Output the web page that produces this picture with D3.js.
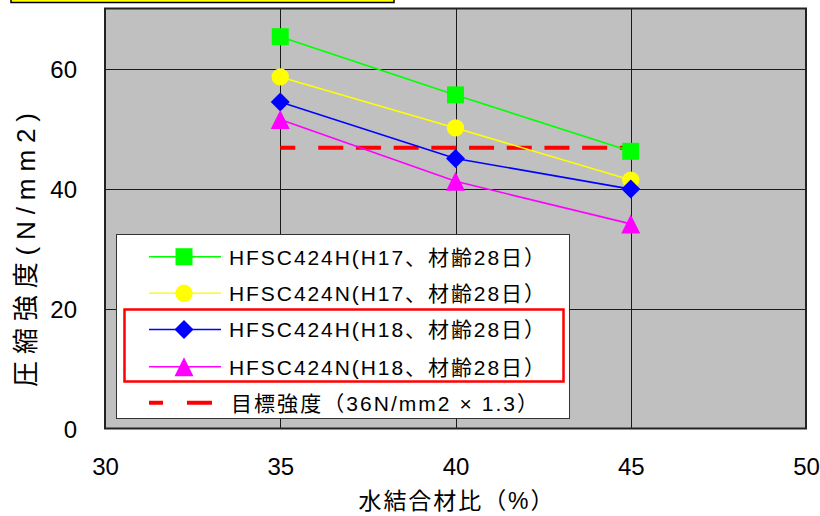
<!DOCTYPE html>
<html>
<head>
<meta charset="utf-8">
<script src="https://cdn.jsdelivr.net/npm/d3@7"></script>
<style>
  html, body { margin: 0; padding: 0; background: #ffffff; }
  svg { display: block; }
  text { font-family: "Liberation Sans", Arial, "Noto Sans CJK JP", sans-serif; fill: #000; }
</style>
</head>
<body>
<svg id="chart" width="820" height="516"></svg>
<script>
// Water-binder ratio (%) on the x axis
const ratios = [35, 40, 45];

// Compressive strength (N/mm2), one array per mix / test year
const hfscH17H = [65.3, 55.6, 46.2];
const hfscH17N = [58.6, 50.1, 41.4];
const hfscH18H = [54.4, 45.0, 39.9];
const hfscH18N = [51.5, 41.2, 34.1];

// Target strength = 36 N/mm2 x 1.3
const targetStrength = 36 * 1.3;
const targetRange = [35, 45];

const seriesNames = [
  "HFSC424H(H17、材齢28日）",
  "HFSC424N(H17、材齢28日）",
  "HFSC424H(H18、材齢28日）",
  "HFSC424N(H18、材齢28日）"
];
const targetName = "目標強度（36N/mm2 × 1.3）";

const xTicks = [30, 35, 40, 45, 50];
const yTicks = [0, 20, 40, 60];
const xTitle = "水結合材比（%）";
const yTitle = "圧縮強度(N/mm2)";

const series = [
  { name: seriesNames[0], values: hfscH17H, color: "#00ff00", shape: "square" },
  { name: seriesNames[1], values: hfscH17N, color: "#ffff00", shape: "circle" },
  { name: seriesNames[2], values: hfscH18H, color: "#0000ff", shape: "diamond" },
  { name: seriesNames[3], values: hfscH18N, color: "#ff00ff", shape: "triangle" }
];

const svg = d3.select("#chart");
const plot = { left: 105, right: 806, top: 8.5, bottom: 428.5 };

const x = d3.scaleLinear().domain([30, 50]).range([plot.left, plot.right]);
const y = d3.scaleLinear().domain([0, 70]).range([plot.bottom, plot.top]);

// Yellow title box peeking in at the top edge
svg.append("rect")
  .attr("x", 11).attr("y", -10).attr("width", 383).attr("height", 12.5)
  .attr("fill", "#ffff00").attr("stroke", "#000").attr("stroke-width", 1.5);

// Plot background
svg.append("rect")
  .attr("x", plot.left).attr("y", plot.top)
  .attr("width", plot.right - plot.left).attr("height", plot.bottom - plot.top)
  .attr("fill", "#c0c0c0");

// Gridlines
const grid = svg.append("g").attr("stroke", "#1a1a1a").attr("stroke-width", 1);
grid.selectAll("line.gx").data(xTicks.filter(d => d > 30 && d < 50)).join("line")
  .attr("x1", d => Math.round(x(d)) + 0.5).attr("x2", d => Math.round(x(d)) + 0.5)
  .attr("y1", plot.top).attr("y2", plot.bottom);
grid.selectAll("line.gy").data(yTicks.filter(d => d > 0)).join("line")
  .attr("y1", d => Math.round(y(d)) + 0.5).attr("y2", d => Math.round(y(d)) + 0.5)
  .attr("x1", plot.left).attr("x2", plot.right);

// Plot frame
svg.append("rect")
  .attr("x", plot.left).attr("y", plot.top)
  .attr("width", plot.right - plot.left).attr("height", plot.bottom - plot.top)
  .attr("fill", "none").attr("stroke", "#222").attr("stroke-width", 2);

// Axis tick labels via d3 axes (domain and tick marks hidden)
const xAxis = svg.append("g")
  .attr("transform", `translate(0,${plot.bottom})`)
  .call(d3.axisBottom(x).tickValues(xTicks).tickSize(0).tickPadding(0).tickFormat(d3.format("d")));
xAxis.select(".domain").remove();
xAxis.selectAll("text")
  .attr("y", 46).attr("dy", null)
  .style("font-size", "24px").style("font-family", "'Liberation Sans', Arial, sans-serif");

const yAxis = svg.append("g")
  .attr("transform", `translate(77,0)`)
  .call(d3.axisLeft(y).tickValues(yTicks).tickSize(0).tickPadding(0).tickFormat(d3.format("d")));
yAxis.select(".domain").remove();
yAxis.selectAll("text")
  .attr("x", 0).attr("dy", "0.36em")
  .style("font-size", "24px").style("font-family", "'Liberation Sans', Arial, sans-serif");

// Axis titles
svg.append("text")
  .attr("x", 456).attr("y", 509).attr("text-anchor", "middle")
  .attr("textLength", 195).attr("lengthAdjust", "spacing")
  .style("font-size", "23px").text(xTitle);

svg.append("text")
  .attr("transform", "translate(35,250) rotate(-90)")
  .attr("text-anchor", "middle")
  .attr("textLength", 274).attr("lengthAdjust", "spacing")
  .style("font-size", "26px").text(yTitle);

// Target strength dashed line
function dashPattern(total) {
  const arr = [15, 23];
  let len = 38;
  while (len < total) { arr.push(25, 12.7); len += 37.7; }
  return arr.join(",");
}
svg.append("line")
  .attr("x1", x(targetRange[0])).attr("x2", x(targetRange[1]))
  .attr("y1", y(targetStrength)).attr("y2", y(targetStrength))
  .attr("stroke", "#ff0000").attr("stroke-width", 4)
  .attr("stroke-dasharray", dashPattern(x(targetRange[1]) - x(targetRange[0])));

// Marker drawing helper
function drawMarker(g, shape, cx, cy, color) {
  if (shape === "square") {
    g.append("rect").attr("x", cx - 8.5).attr("y", cy - 8.5).attr("width", 17).attr("height", 17)
      .attr("fill", color);
  } else if (shape === "circle") {
    g.append("circle").attr("cx", cx).attr("cy", cy).attr("r", 8.7).attr("fill", color);
  } else if (shape === "diamond") {
    g.append("path").attr("d", `M${cx},${cy - 9.5}L${cx + 9.5},${cy}L${cx},${cy + 9.5}L${cx - 9.5},${cy}Z`)
      .attr("fill", color);
  } else if (shape === "triangle") {
    g.append("path").attr("d", `M${cx},${cy - 9.5}L${cx + 9.5},${cy + 9.5}L${cx - 9.5},${cy + 9.5}Z`)
      .attr("fill", color);
  }
}

// Series lines and markers
const line = d3.line().x((d, i) => x(ratios[i])).y(d => y(d));
series.forEach(s => {
  svg.append("path").datum(s.values)
    .attr("d", line).attr("fill", "none")
    .attr("stroke", s.color).attr("stroke-width", 1.6);
});
series.forEach(s => {
  const g = svg.append("g");
  s.values.forEach((v, i) => drawMarker(g, s.shape, x(ratios[i]), y(v), s.color));
});

// Legend
const legend = svg.append("g");
legend.append("rect")
  .attr("x", 116.5).attr("y", 234.5).attr("width", 453).attr("height", 184)
  .attr("fill", "#ffffff").attr("stroke", "#333").attr("stroke-width", 1);

const rowY = [256.7, 293.3, 329.5, 366.7, 402.7];
series.forEach((s, i) => {
  const cy = rowY[i];
  legend.append("line").attr("x1", 149).attr("x2", 221).attr("y1", cy).attr("y2", cy)
    .attr("stroke", s.color).attr("stroke-width", 1.6);
  drawMarker(legend, s.shape, 184, cy, s.color);
  legend.append("text").attr("x", 229).attr("y", cy + 7.8)
    .attr("textLength", 316).attr("lengthAdjust", "spacing")
    .style("font-size", "21px").text(s.name);
});
legend.append("line").attr("x1", 149).attr("x2", 212).attr("y1", rowY[4]).attr("y2", rowY[4])
  .attr("stroke", "#ff0000").attr("stroke-width", 4).attr("stroke-dasharray", "14,24,25");
legend.append("text").attr("x", 231).attr("y", rowY[4] + 7.8)
  .attr("textLength", 307).attr("lengthAdjust", "spacing")
  .style("font-size", "21px").text(targetName);

// Red frame around the H18 entries
legend.append("rect")
  .attr("x", 124.5).attr("y", 309.5).attr("width", 439).attr("height", 72)
  .attr("fill", "none").attr("stroke", "#ff0000").attr("stroke-width", 2.5);
</script>
</body>
</html>
